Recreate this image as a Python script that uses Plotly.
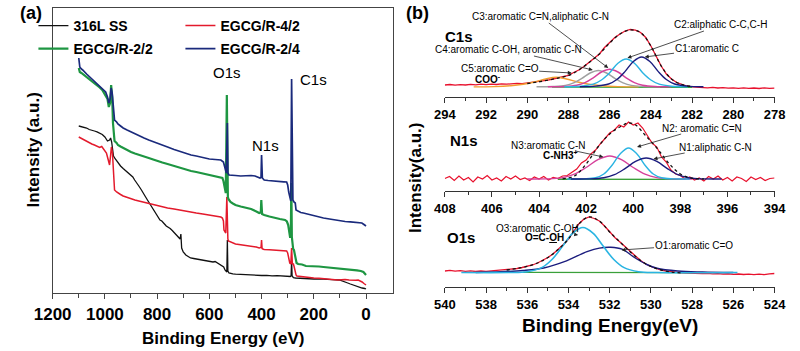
import plotly.graph_objects as go

# ---------------- (a) survey spectra: (binding energy eV, intensity a.u.) ----------------
survey_names = ["316L SS", "EGCG/R-4/2", "EGCG/R-2/2", "EGCG/R-2/4"]
survey_colors = ["#111111", "#e31a2c", "#1e9642", "#1a2a7c"]

ss316 = [(1100,167),(1090,166.5),(1080,166),(1070,165),(1060,163.5),(1050,163),(1040,162),(1030,161.2),(1020,160),(1010,158.5),(1000,156),(990,152),(982,153),(978,155),(974,151),(967,137),(960,134),(955,132),(945,129),(940,127),(930,124.5),(920,122),(910,120),(900,118),(893,116),(886,113),(880,111),(870,107),(860,103),(852,100),(844,96),(837,93),(830,90),(822,87),(815,84),(807,80),(800,77),(795,75.5),(789,73),(782,72),(777,70),(770,68.5),(765,67),(757,66),(750,64.5),(742,62.5),(734,60),(727,58),(720,56),(715,54.5),(712,54),(709,59),(706,45),(700,41),(695,39),(690,38),(681,36.5),(672,35),(660,34.5),(650,34),(635,33.5),(620,33),(610,32.5),(600,32),(586,31),(578,31.5),(570,30),(562,29),(556,28),(550,27),(545,26),(540,23),(537,21.5),(533,21),(531,53),(529,22),(525,20),(519,19.5),(510,19.2),(500,18.8),(480,18.5),(460,18.1),(440,18.4),(420,17.8),(400,17.5),(380,17.7),(360,17.1),(340,17.3),(320,16.8),(300,16.5),(290,16.5),(287,17),(285,33),(283,17),(278,15.3),(270,15),(260,14.8),(250,14.5),(235,14.7),(220,14.2),(200,14),(180,14.1),(160,13.6),(150,13.5),(130,13.4),(115,13.2),(102,13),(95,12.5),(90,12),(80,11),(70,10),(60,9),(50,8),(40,7),(30,6),(15,5),(5,4.5),(0,4)]

egcg_42 = [(1100,156),(1090,154.5),(1080,153),(1070,151.5),(1060,150),(1050,149),(1040,148),(1030,146.5),(1020,145.5),(1012,146.5),(1005,144),(1000,142),(994,140),(990,136),(986,130),(982,128),(978,138),(975,146),(971,140),(968,122),(965,106),(963,103),(955,101),(950,100),(940,98.5),(930,97),(915,95.5),(900,94),(885,93),(870,92),(855,91),(840,90),(820,88.5),(800,87.5),(780,86),(760,85),(735,84),(709,83),(690,82),(670,81),(650,80),(625,79),(600,78),(578,77),(556,76),(550,75),(546,72),(544,63),(540,61),(537,60),(533,96),(531,58),(529,54),(527,52),(519,51),(510,50),(500,49),(480,48.2),(460,47.5),(440,47),(420,46),(409,45),(402,45.5),(400,53),(398,44.5),(395,44),(390,43.5),(370,43.2),(350,43),(330,42.5),(310,42),(304,42),(300,40),(296,35),(292,30),(288,29),(285,45),(282,29),(278,29),(275,26),(272,22),(268,18),(265,17),(250,16.5),(240,16),(229,16),(215,15.5),(200,15),(180,14.8),(160,14.2),(150,14),(130,13.6),(109,13),(95,13.2),(80,13.5),(65,13),(50,12.5),(40,12.8),(30,13),(20,12),(15,11),(8,9.5),(0,8)]

egcg_22 = [(1100,225),(1096,221),(1090,220),(1080,218),(1070,216),(1060,214),(1050,212),(1040,210),(1030,208),(1020,205.5),(1010,203),(1003,200),(997,198),(990,194),(985,186),(980,190),(976,208),(972,196),(969,170),(966,158),(963,152),(955,150),(950,148),(940,146.5),(930,145),(915,143),(900,141),(885,139.5),(870,138),(850,136.5),(832,135),(815,133.5),(800,132),(780,130.5),(760,129),(735,127),(709,125),(690,124),(670,122),(650,121),(625,119.5),(600,118),(578,117),(556,116),(550,115),(546,112),(542,105),(537,100),(533,198),(531,108),(529,96),(527,94),(519,91),(510,89.5),(500,88),(480,86.5),(460,85),(440,84),(420,81.5),(409,80),(403,80.5),(401,93),(398,79),(390,78),(370,76.5),(350,75),(330,74),(310,73),(303,71.5),(298,68),(294,60),(291,56),(288,56),(286,110),(284,56),(282,46),(279,44),(276,43),(273,38),(270,32),(266,30),(260,29),(245,28.5),(230,27),(200,27),(180,26.5),(163,26),(140,25.5),(120,25),(100,24),(80,23.8),(60,23.2),(50,23),(35,22.6),(20,22),(10,21),(5,19.5),(0,18)]

egcg_24 = [(1100,235),(1098,230),(1096,226),(1090,224),(1085,223),(1070,219),(1060,216.5),(1050,214),(1040,212),(1030,210),(1020,207.5),(1010,205),(1003,203),(997,201),(990,196),(985,190),(980,194),(976,205),(972,200),(969,188),(966,176),(963,173),(955,171),(950,169),(940,167),(930,165),(915,163),(900,161),(885,159),(870,157),(850,155),(832,153),(815,151.5),(800,150),(780,148),(760,146),(735,143.5),(709,141),(690,139.5),(670,138),(650,137),(625,135.5),(600,134),(578,133.5),(556,133),(546,131),(540,124),(535,120),(531,170),(529,120),(525,118),(519,118),(500,117.5),(480,117),(460,117.3),(440,117.5),(425,117),(412,116),(406,115),(402,115.5),(400,138),(397,115),(393,114),(390,113),(375,112.5),(360,112),(345,111.8),(330,111.5),(315,111.2),(304,111),(300,108),(296,101),(292,96),(288,92),(285,214),(283,100),(280,93),(276,91),(271,90),(268,83),(260,81.5),(250,80.5),(240,80),(220,78.5),(200,77),(180,76),(163,75),(140,74),(120,73),(100,72),(80,71.5),(60,71.2),(50,71),(30,70.5),(16,70),(8,68.5),(0,67)]

survey_data = [ss316, egcg_42, egcg_22, egcg_24]
survey_widths = [1.3, 1.5, 2.2, 1.7]
survey_legend = ["legend", "legend", "legend2", "legend2"]

survey_peaks = [("O1s", 533.7, 220), ("N1s", 386.5, 147), ("C1s", 202.4, 213)]

# ---------------- (b) high-resolution spectra ----------------
# C1s
c1s_raw = [(294,12),(293.75,12.5),(293.5,11.8),(293.25,12.3),(293,12),(292.75,12.6),(292.5,12.2),(292.25,12.8),(292,12.4),(291.75,12.9),(291.5,12.5),(291.25,13.1),(291,12.8),(290.75,13.3),(290.5,13.6),(290.25,13.4),(290,14),(289.75,14.6),(289.5,15.2),(289.25,16),(289,16.8),(288.75,18),(288.5,19),(288.25,19.8),(288,21.5),(287.75,24.5),(287.5,27),(287.25,30.5),(287,34.5),(286.75,38.5),(286.5,43),(286.25,49.5),(286,54),(285.75,59.5),(285.5,63),(285.25,66),(285,67.5),(284.75,66.8),(284.5,64.5),(284.25,59.5),(284,51),(283.75,41),(283.5,31),(283.25,23),(283,18),(282.75,14.5),(282.5,12.5),(282.25,11),(282,10.2),(281.75,9.8),(281.5,9.5),(281.25,9.2),(281,9.6),(280.75,9),(280.5,9.4),(280.25,8.8),(280,9.2),(279.75,8.7),(279.5,9.1),(279.25,8.6),(279,9),(278.75,8.5),(278.5,9.2),(278.25,8.6),(278,8.9)]
c1s_fit = [(290,13.5),(289.5,15),(289,16.8),(288.5,19),(288,21.5),(287.5,27),(287,34.5),(286.5,43),(286,54),(285.5,63),(285,67),(284.5,64.5),(284,51),(283.5,31),(283,18),(282.5,12.5),(282,10.5)]
c1s_bg = [(288.8,9.9),(286,9.8),(284,9.7),(282,9.6)]
c1s_c1 = [(281.45,10.3),(282.25,10.9),(282.85,13),(283.25,17.5),(283.65,25.6),(284.05,35.5),(284.45,40),(284.85,35.5),(285.25,25.6),(285.65,17.5),(286.05,13),(286.65,10.9),(287.45,10.3)]
c1s_c2 = [(282.2,10.3),(283.0,10.8),(283.6,12.8),(284.0,17),(284.4,24.3),(284.8,33.8),(285.2,38),(285.6,33.8),(286.0,24.3),(286.4,17),(286.8,12.8),(287.4,10.8),(288.2,10.3)]
c1s_c3 = [(283.0,10.2),(283.8,10.5),(284.4,11.8),(284.8,14.4),(285.2,19.2),(285.6,25),(286.0,27.7),(286.4,25),(286.8,19.2),(287.2,14.4),(287.6,11.8),(288.2,10.5),(289.0,10.2)]
c1s_c4 = [(283.55,10.2),(284.35,10.5),(284.95,11.6),(285.35,14.1),(285.75,18.6),(286.15,24),(286.55,26.5),(286.95,24),(287.35,18.6),(287.75,14.1),(288.15,11.6),(288.75,10.5),(289.55,10.2)]
c1s_c5 = [(284.6,10.1),(285.6,10.4),(286.4,11.3),(287.0,12.8),(287.6,15.3),(288.1,18),(288.6,19.7),(289.1,18),(289.6,15.3),(290.2,12.8),(290.8,11.3),(291.6,10.4),(292.6,10.1)]

# N1s
n1s_raw = [(408.0,12.5),(407.8,14.5),(407.6,10.5),(407.4,15),(407.2,11),(407.0,13.5),(406.8,9),(406.6,14),(406.4,12),(406.2,15.5),(406.0,11),(405.8,13),(405.6,10),(405.4,14.5),(405.2,12),(405.0,15),(404.8,11.5),(404.6,13),(404.4,10.5),(404.2,14),(404.0,12),(403.8,14.5),(403.6,11),(403.4,13.5),(403.2,12.5),(403.0,15),(402.8,15.5),(402.6,19),(402.4,22),(402.2,28),(402.0,31),(401.8,37),(401.6,41),(401.4,47),(401.2,52),(401.0,58),(400.8,61),(400.6,66),(400.4,64),(400.2,69),(400.0,66),(399.8,68),(399.6,63),(399.4,56),(399.2,48),(399.0,44),(398.8,34),(398.6,29),(398.4,21),(398.2,17),(398.0,15.5),(397.8,12),(397.6,14),(397.4,11),(397.2,13),(397.0,10),(396.8,14.5),(396.6,12),(396.4,15),(396.2,11),(396.0,13.5),(395.8,10),(395.6,14),(395.4,12.5),(395.2,9.5),(395.0,14),(394.8,11.5),(394.6,13.5),(394.4,10.5),(394.2,12.5),(394.0,13)]
n1s_fit = [(403,12.2),(402.5,15),(402,27),(401.5,44),(401,57),(400.5,65),(400.2,68),(399.9,66),(399.5,56),(399,43),(398.5,28),(398,17),(397.5,12.8),(397,12)]
n1s_bg = [(403.2,11.8),(400,11.7),(397.8,11.6)]
n1s_n2 = [(397.6,12),(398.3,12.1),(398.8,13.2),(399.15,17),(399.5,25.8),(399.85,37.3),(400.2,43),(400.55,37.3),(400.9,25.8),(401.25,17),(401.6,13.2),(402.1,12.1),(402.8,12)]
n1s_n3 = [(397.5,12),(398.3,12.1),(399.0,13.4),(399.5,16.8),(400.0,23.5),(400.5,31.3),(401.0,35),(401.5,31.3),(402.0,23.5),(402.5,16.8),(403.0,13.4),(403.7,12.1),(404.5,12)]
n1s_n1 = [(396.25,12),(397.05,12.1),(397.65,13.3),(398.1,16.3),(398.55,22.4),(399.0,29.6),(399.45,33),(399.9,29.6),(400.35,22.4),(400.8,16.3),(401.25,13.3),(401.85,12.1),(402.65,12)]

# O1s
o1s_raw = [(540,16),(539.75,16.6),(539.5,15.8),(539.25,16.3),(539,15.6),(538.75,16.1),(538.5,15.5),(538.25,16),(538,15.7),(537.75,16.2),(537.5,16.4),(537.25,16.8),(537,17.2),(536.75,17.8),(536.5,18.5),(536.25,19.5),(536,20.6),(535.75,22),(535.5,24),(535.25,26.5),(535,29.5),(534.75,33),(534.5,37.5),(534.25,42.5),(534,48),(533.75,55),(533.5,63),(533.25,68),(533,70),(532.75,68.5),(532.5,66),(532.25,61),(532,55),(531.75,49.5),(531.5,45),(531.25,40),(531,35),(530.75,31),(530.5,26.5),(530.25,23),(530,20.5),(529.75,18.5),(529.5,17),(529.25,15.8),(529,15),(528.75,14.5),(528.5,14.1),(528.25,13.9),(528,13.6),(527.75,13.8),(527.5,13.3),(527.25,13.6),(527,13.1),(526.75,13.4),(526.5,12.8),(526.25,13.2),(526,12.6),(525.75,13),(525.5,12.5),(525.25,12.9),(525,12.4),(524.75,12.8),(524.5,12.3),(524.25,13.2),(524,13.5)]
o1s_fit = [(537,17),(536.5,18.5),(536,20.6),(535.5,24),(535,29.5),(534.5,37.5),(534,48),(533.5,63),(533,70),(532.5,66),(532,55),(531.5,45),(531,35),(530.5,26.5),(530,20.5),(529.5,17),(529,15),(528.5,14.1)]
o1s_bg = [(536.2,14.6),(532,14.5),(528,14.4)]
o1s_o3 = [(539.2,14.5),(536.9,14.5),(536.0,15.3),(535.3,19.4),(534.8,27.5),(534.3,40.4),(533.8,53.7),(533.3,59.5),(532.8,53.7),(532.3,40.4),(531.8,27.5),(531.3,19.4),(530.6,15.3),(529.7,14.5),(525.8,14.5)]
o1s_o1 = [(538.5,14.5),(537.3,15.3),(536.2,16.5),(535.2,19),(534.2,25.3),(533.1,35.3),(532.5,38.9),(531.95,39.7),(531.4,37.8),(530.8,29.5),(530.2,22.5),(529.7,18.7),(528.7,16),(527.5,15),(526,14.5)]

# component colours
c_raw, c_fit, c_bg = "#e8112d", "#111111", "#3aa03a"
c_cyan, c_navy, c_mag, c_gray, c_orange = "#2ab4e2", "#1b1c7e", "#d6419b", "#a0a0a0", "#f39c2f"

fig = go.Figure()

for name, data, color, width, lg in zip(survey_names, survey_data, survey_colors, survey_widths, survey_legend):
    xs, ys = zip(*data)
    fig.add_trace(go.Scatter(x=list(xs), y=list(ys), mode="lines", name=name,
                             line=dict(color=color, width=width), xaxis="x", yaxis="y",
                             legend=lg))

def add_hr(data, color, axis, width=1.3, dash=None, spline=False):
    xs, ys = zip(*data)
    fig.add_trace(go.Scatter(x=list(xs), y=list(ys), mode="lines", showlegend=False,
                             line=dict(color=color, width=width, dash=dash,
                                       shape="spline" if spline else "linear"),
                             xaxis="x" + axis, yaxis="y" + axis))

# C1s
add_hr(c1s_raw, c_raw, "2", 1.3)
add_hr(c1s_bg, c_bg, "2", 1.2)
for d, c in [(c1s_c5, c_orange), (c1s_c4, c_gray), (c1s_c3, c_mag), (c1s_c2, c_cyan), (c1s_c1, c_navy)]:
    add_hr(d, c, "2", 1.4, spline=True)
add_hr(c1s_fit, c_fit, "2", 1.3, dash="3px,3px", spline=True)
# N1s
add_hr(n1s_raw, c_raw, "3", 1.2)
add_hr(n1s_bg, c_bg, "3", 1.4)
for d, c in [(n1s_n3, c_mag), (n1s_n2, c_cyan), (n1s_n1, c_navy)]:
    add_hr(d, c, "3", 1.4, spline=True)
add_hr(n1s_fit, c_fit, "3", 1.3, dash="3px,3px", spline=True)
# O1s
add_hr(o1s_raw, c_raw, "4", 1.3)
add_hr(o1s_bg, c_bg, "4", 1.4)
add_hr(o1s_o1, c_navy, "4", 1.4, spline=True)
add_hr(o1s_o3, c_cyan, "4", 1.6, spline=True)
add_hr(o1s_fit, c_fit, "4", 1.3, dash="3px,3px", spline=True)

H = 351.0
def py(p):
    return 1 - p / H

FONT = "Liberation Sans"
right_x = dict(showline=True, linecolor="#333333", linewidth=1.3, ticks="outside", ticklen=5,
               tickwidth=1.2, tickcolor="#333333", dtick=2, tick0=0,
               minor=dict(dtick=1, ticks="outside", ticklen=3, tickwidth=1, tickcolor="#333333"),
               tickfont=dict(family=FONT, size=13, weight="bold", color="black"),
               showgrid=False, zeroline=False, domain=[443/800, 786/800])

fig.update_layout(
    width=800, height=351, autosize=False,
    margin=dict(l=0, r=0, t=0, b=0),
    paper_bgcolor="white", plot_bgcolor="white",
    xaxis=dict(domain=[35/800, 389/800], range=[1200, -103], anchor="y",
               showline=True, mirror=True, linecolor="#444444", linewidth=1.3,
               ticks="outside", ticklen=5, tickwidth=1.3, tickcolor="#444444",
               tickvals=[1200, 1000, 800, 600, 400, 200, 0],
               minor=dict(tickvals=[1100, 900, 700, 500, 300, 100], ticks="outside", ticklen=4,
                          tickwidth=1.2, tickcolor="#444444"),
               tickfont=dict(family=FONT, size=17, weight="bold", color="black"),
               showgrid=False, zeroline=False),
    yaxis=dict(domain=[py(293), py(8)], range=[0, 285], anchor="x",
               showline=True, mirror=True, linecolor="#444444", linewidth=1.3,
               showticklabels=False, ticks="", showgrid=False, zeroline=False),
    xaxis2=dict(right_x, range=[294, 278], anchor="y2"),
    yaxis2=dict(domain=[py(97), py(15)], range=[0, 82], visible=False, anchor="x2"),
    xaxis3=dict(right_x, range=[408, 394], anchor="y3"),
    yaxis3=dict(domain=[py(191), py(118)], range=[0, 73], visible=False, anchor="x3"),
    xaxis4=dict(right_x, range=[540, 524], anchor="y4"),
    yaxis4=dict(domain=[py(287), py(212)], range=[0, 75], visible=False, anchor="x4"),
    legend=dict(orientation="h", x=15/800, y=py(10), xanchor="left", yanchor="top",
                entrywidth=102, font=dict(family=FONT, size=14, weight="bold", color="black"),
                bgcolor="rgba(0,0,0,0)", itemwidth=30, tracegroupgap=0),
    legend2=dict(orientation="h", x=15/800, y=py(33), xanchor="left", yanchor="top",
                 entrywidth=102, font=dict(family=FONT, size=14, weight="bold", color="black"),
                 bgcolor="rgba(0,0,0,0)", itemwidth=30, tracegroupgap=0),
)

ann = []
def txt(text, x, y, xref="paper", yref="paper", size=17, bold=True, angle=0, anchor="center"):
    ann.append(dict(text=text, x=x, y=y, xref=xref, yref=yref, showarrow=False,
                    textangle=angle, xanchor=anchor, yanchor="middle", borderpad=0,
                    font=dict(family=FONT, size=size, color="black",
                              weight="bold" if bold else "normal")))

def arrow(text, hx, hy, tx, ty, axis, size=10, bold=False):
    ann.append(dict(text=text, x=hx, y=hy, ax=tx, ay=ty, xref="x" + axis, yref="y" + axis,
                    axref="x" + axis, ayref="y" + axis, showarrow=True, arrowhead=2,
                    arrowsize=1, arrowwidth=0.8, arrowcolor="#222222", borderpad=0,
                    font=dict(family=FONT, size=size, color="black",
                              weight="bold" if bold else "normal")))

# panel labels and axis titles
txt("(a)", 13/800, py(13), size=18)
txt("(b)", 415/800, py(13), size=18)
txt("Intensity (a.u.)", 15/800, py(150), size=17, angle=-90)
txt("Binding Energy (eV)", 212/800, py(338), size=17)
txt("Intensity(a.u.)", 412/800, py(178), size=17, angle=-90)
txt("Binding Energy(eV)", 615/800, py(325), size=19)
for label, e, v in survey_peaks:
    txt(label, e, v, xref="x", yref="y", size=15, bold=False)

# C1s labels
txt("C1s", 293.3, 60, xref="x2", yref="y2", size=15)
arrow("C3:aromatic C=N,aliphatic C-N", 286.07, 29, 289.34, 80, "2")
arrow("C2:aliphatic C-C,C-H", 285.14, 39, 280.6, 72, "2")
arrow("C1:aromatic C", 284.3, 40, 281.3, 48, "2")
arrow("C4:aromatic C-OH, aromatic C-N", 286.82, 27, 290.9, 47, "2")
arrow("C5:aromatic C=O", 287.84, 24, 291.34, 28, "2")
txt("COO<sup>-</sup>", 291.9, 18, xref="x2", yref="y2", size=10)
# N1s labels
txt("N1s", 407.2, 51, xref="x3", yref="y3", size=15)
arrow("N3:aromatic C-N", 401.27, 34, 403.63, 46, "3")
txt("C-NH3<sup>+</sup>", 403.1, 36.5, xref="x3", yref="y3", size=10)
arrow("N2: aromatic C=N", 399.84, 44, 397.1, 63, "3")
arrow("N1:aliphatic C-N", 399.14, 32, 396.49, 44, "3")
# O1s labels
txt("O1s", 539.2, 50, xref="x4", yref="y4", size=15)
arrow("O3:aromatic C-OH", 533.53, 52, 535.48, 58.5, "4")
txt("O=C-<u>O</u>H", 535.16, 49.5, xref="x4", yref="y4", size=10)
arrow("O1:aromatic C=O", 531.43, 37, 527.93, 42, "4")

fig.update_layout(annotations=ann)
fig.write_html("out.html", config={"displayModeBar": False},
               post_script="document.body.style.margin='0';document.body.style.overflow='hidden';")
